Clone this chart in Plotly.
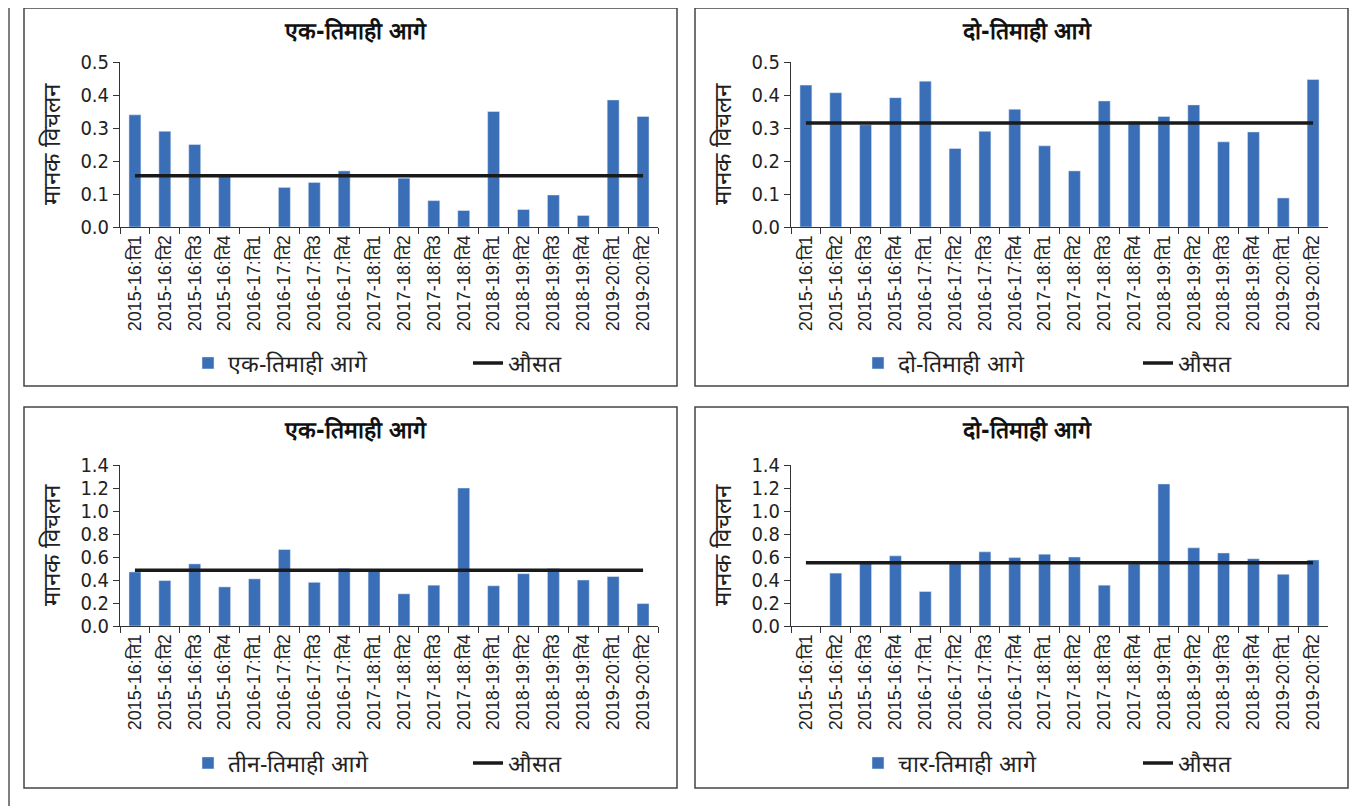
import plotly.graph_objects as go

quarters = [
    '2015-16:ति1', '2015-16:ति2', '2015-16:ति3', '2015-16:ति4',
    '2016-17:ति1', '2016-17:ति2', '2016-17:ति3', '2016-17:ति4',
    '2017-18:ति1', '2017-18:ति2', '2017-18:ति3', '2017-18:ति4',
    '2018-19:ति1', '2018-19:ति2', '2018-19:ति3', '2018-19:ति4',
    '2019-20:ति1', '2019-20:ति2',
]

one_q = [0.34, 0.29, 0.25, 0.155, None, 0.12, 0.135, 0.17, None,
         0.148, 0.08, 0.05, 0.35, 0.053, 0.097, 0.035, 0.385, 0.335]
two_q = [0.43, 0.407, 0.31, 0.392, 0.442, 0.238, 0.29, 0.357, 0.246,
         0.17, 0.382, 0.32, 0.335, 0.37, 0.258, 0.288, 0.088, 0.447]
three_q = [0.47, 0.395, 0.54, 0.34, 0.41, 0.665, 0.38, 0.5, 0.48,
           0.28, 0.355, 1.2, 0.35, 0.455, 0.5, 0.4, 0.43, 0.195]
four_q = [None, 0.46, 0.55, 0.61, 0.3, 0.55, 0.645, 0.595, 0.625,
          0.6, 0.355, 0.54, 1.235, 0.68, 0.635, 0.585, 0.45, 0.575]

averages = [0.155, 0.315, 0.485, 0.55]
series_names = ['एक-तिमाही आगे', 'दो-तिमाही आगे', 'तीन-तिमाही आगे', 'चार-तिमाही आगे']
panel_titles = ['एक-तिमाही आगे', 'दो-तिमाही आगे', 'एक-तिमाही आगे', 'दो-तिमाही आगे']
avg_name = 'औसत'
y_title = 'मानक विचलन'

W, H = 1367, 806
OFF = 8  # page body margin
BAR = '#3a6fb8'
AXIS = '#333333'
FONT = 'Liberation Sans Narrow, DejaVu Sans Condensed, Roboto, sans-serif'


def px(x):
    return (x - OFF) / W


def py(y):
    return 1 - (y - OFF) / H


# plot areas in screen pixels: (left, right, top, bottom)
areas = [(120, 658, 62, 227), (791, 1328, 62, 227),
         (120, 658, 465, 626), (791, 1328, 465, 626)]
boxes = [(24, 677, 8, 386), (695, 1348, 8, 386),
         (24, 677, 407, 788), (695, 1348, 407, 788)]
legend_pos = [(188, 363), (858, 363), (188, 763), (858, 763)]
y_ranges = [(0.5, 0.1), (0.5, 0.1), (1.4, 0.2), (1.4, 0.2)]
data = [one_q, two_q, three_q, four_q]

fig = go.Figure()
layout = {}
shapes = []
annotations = []
for i in range(4):
    sfx = '' if i == 0 else str(i + 1)
    lg = 'legend' + sfx
    fig.add_trace(go.Bar(
        x=quarters, y=data[i], name=series_names[i], marker_color=BAR,
        width=0.4, xaxis='x' + sfx, yaxis='y' + sfx, legend=lg,
    ))
    fig.add_trace(go.Scatter(
        x=quarters, y=[averages[i]] * len(quarters), mode='lines',
        name=avg_name, line=dict(color='#1a1a1a', width=3.5),
        xaxis='x' + sfx, yaxis='y' + sfx, legend=lg,
    ))
    l, r, t, b = areas[i]
    top, step = y_ranges[i]
    layout['xaxis' + sfx] = dict(
        domain=[px(l), px(r)], anchor='y' + sfx, type='category',
        tickson='boundaries', ticks='outside', ticklen=6, tickcolor=AXIS,
        showline=True, linecolor=AXIS, linewidth=1, tickangle=-90,
        tickfont=dict(size=18, color='#222', family='Liberation Sans, Arial, sans-serif'),
        showgrid=False, fixedrange=True, automargin=False,
    )
    layout['yaxis' + sfx] = dict(
        domain=[py(b), py(t)], anchor='x' + sfx, range=[0, top], dtick=step,
        tickformat='.1f', ticks='outside', ticklen=6, tickcolor=AXIS,
        showline=True, linecolor=AXIS, linewidth=1, showgrid=False,
        zeroline=False, tickfont=dict(size=20, color='#222', family=FONT),
        automargin=False,
        title=dict(text=y_title, standoff=12,
                   font=dict(size=24, color='#222', family=FONT)),
    )
    lx, ly = legend_pos[i]
    layout[lg] = dict(
        orientation='h', x=px(lx), y=py(ly), xanchor='left', yanchor='middle',
        bgcolor='rgba(0,0,0,0)', entrywidth=235, entrywidthmode='pixels',
        font=dict(size=23, color='#222', family=FONT),
    )
    bl, br, bt, bb = boxes[i]
    shapes.append(dict(type='rect', xref='paper', yref='paper',
                       x0=px(bl), x1=px(br), y0=py(bb), y1=py(bt),
                       line=dict(color='#444', width=1.5)))
    annotations.append(dict(
        text=panel_titles[i], xref='paper', yref='paper',
        x=px((bl + br) / 2 + 5), y=py(bt + 22), xanchor='center',
        yanchor='middle', showarrow=False,
        font=dict(size=23, color='#111', family=FONT, weight='bold'),
    ))

# outer frame edges
for x in (9, 1364):
    shapes.append(dict(type='line', xref='paper', yref='paper',
                       x0=px(x), x1=px(x), y0=0, y1=1,
                       line=dict(color='#555', width=1.5)))

fig.update_layout(
    width=W, height=H,
    margin=dict(l=0, r=0, t=0, b=0, autoexpand=False),
    paper_bgcolor='white', plot_bgcolor='white', bargap=0.6,
    showlegend=True, shapes=shapes, annotations=annotations,
    **layout,
)

fig.write_html("out.html")
